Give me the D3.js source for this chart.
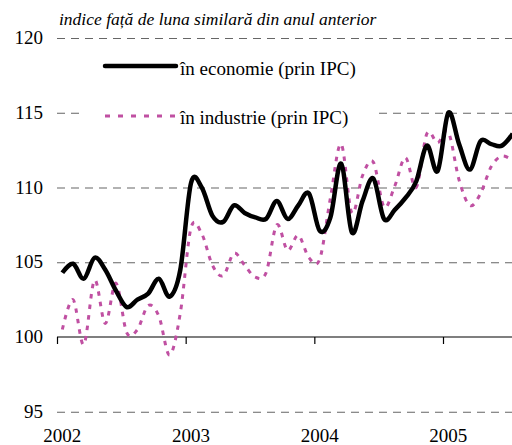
<!DOCTYPE html>
<html>
<head>
<meta charset="utf-8">
<script src="https://cdn.jsdelivr.net/npm/d3@7"></script>
<style>
  body { margin: 0; background: #fff; }
</style>
</head>
<body>
<svg id="chart" width="512" height="445"></svg>
<script>
// monthly values, Jan 2002 .. Jul 2005
var economie = [104.3, 104.9, 103.9, 105.3, 104.5, 103.1, 102.0, 102.5, 102.9, 103.9, 102.7, 104.5,
  110.3, 110.0, 108.1, 107.7, 108.8, 108.3, 108.0, 107.9, 109.1, 107.9, 108.8, 109.6,
  107.1, 108.0, 111.6, 107.0, 109.1, 110.6, 107.9, 108.5, 109.3, 110.4, 112.8, 111.1,
  115.0, 112.9, 111.2, 113.1, 112.9, 112.8, 113.6];
var industrie = [100.5, 102.5, 99.5, 103.8, 100.9, 103.6, 100.3, 100.5, 102.1, 101.4, 98.8, 101.6,
  107.3, 106.9, 104.8, 104.1, 105.6, 104.8, 104.0, 104.3, 107.5, 105.8, 106.8, 105.3,
  105.2, 109.3, 112.9, 108.3, 110.8, 111.7, 108.7, 110.1, 112.0, 110.0, 113.6, 113.0,
  113.7, 110.5, 108.8, 109.6, 111.4, 112.1, 111.8];
var years = ["2002", "2003", "2004", "2005"];
var yTicks = [95, 105, 110, 115, 120];
var title = "indice față de luna similară din anul anterior";
var seriesNames = ["în economie (prin IPC)", "în industrie (prin IPC)"];

var serif = "'Liberation Serif', 'Times New Roman', Times, 'DejaVu Serif', serif";
var svg = d3.select("#chart").attr("font-family", serif);
var left = 57, right = 512;

var x = d3.scaleLinear().domain([0, 36]).range([57, 443]);
var y = d3.scaleLinear().domain([100, 120]).range([337, 38]);

// dashed gridlines
var grid = svg.append("g")
  .attr("transform", "translate(" + left + ",0)")
  .call(d3.axisLeft(y).tickValues(yTicks).tickSize(-(right - left)).tickFormat(""));
grid.select(".domain").remove();
grid.selectAll("line")
  .attr("stroke", "#666")
  .attr("stroke-width", 1.2)
  .attr("stroke-dasharray", "8,6");

// y labels (including 100)
svg.append("g").selectAll("text")
  .data([95, 100, 105, 110, 115, 120])
  .join("text")
  .attr("x", 43)
  .attr("y", function (d) { return y(d) + 6; })
  .attr("text-anchor", "end")
  .attr("font-family", serif)
  .style("font-size", "19px")
  .text(function (d) { return d; });

// axis line at 100 with year ticks
var ax = svg.append("g")
  .attr("transform", "translate(0," + y(100) + ")")
  .call(d3.axisBottom(x).tickValues([0, 12, 24, 36]).tickSize(7).tickSizeOuter(0).tickFormat(""));
ax.select(".domain").attr("d", "M" + left + ",0H" + right).attr("stroke", "#000").attr("stroke-width", 1.2);
ax.selectAll("line").attr("stroke", "#000").attr("stroke-width", 1.2);

// year labels sit under January of each year
svg.append("g").selectAll("text")
  .data(years)
  .join("text")
  .attr("x", function (d, i) { return x(i * 12 + 0.5); })
  .attr("y", 442)
  .attr("text-anchor", "middle")
  .attr("font-family", serif)
  .style("font-size", "19px")
  .text(function (d) { return d; });

// title
svg.append("text")
  .attr("x", 59)
  .attr("y", 25)
  .attr("font-family", serif)
  .style("font-size", "17.5px")
  .style("font-style", "italic")
  .text(title);

var line = d3.line()
  .x(function (d, i) { return x(i + 0.5); })
  .y(function (d) { return y(d); })
  .curve(d3.curveCardinal.tension(0));

svg.append("path")
  .datum(industrie)
  .attr("d", line)
  .attr("fill", "none")
  .attr("stroke", "#c050a2")
  .attr("stroke-width", 3)
  .attr("stroke-dasharray", "4.5,6");

svg.append("path")
  .datum(economie)
  .attr("d", line)
  .attr("fill", "none")
  .attr("stroke", "#000")
  .attr("stroke-width", 4.5)
  .attr("stroke-linejoin", "round");

// legend
var lg = svg.append("g");
lg.append("rect").attr("x", 81).attr("y", 46).attr("width", 296).attr("height", 90).attr("fill", "#fff");
lg.append("line").attr("x1", 105).attr("x2", 176).attr("y1", 66).attr("y2", 66)
  .attr("stroke", "#000").attr("stroke-width", 4.5).attr("stroke-linecap", "round");
lg.append("line").attr("x1", 105).attr("x2", 176).attr("y1", 116).attr("y2", 116)
  .attr("stroke", "#c050a2").attr("stroke-width", 3).attr("stroke-dasharray", "5,8");
lg.append("text").attr("x", 180).attr("y", 75).attr("font-family", serif).style("font-size", "19px").text(seriesNames[0]);
lg.append("text").attr("x", 180).attr("y", 124).attr("font-family", serif).style("font-size", "19px").text(seriesNames[1]);
</script>
</body>
</html>
